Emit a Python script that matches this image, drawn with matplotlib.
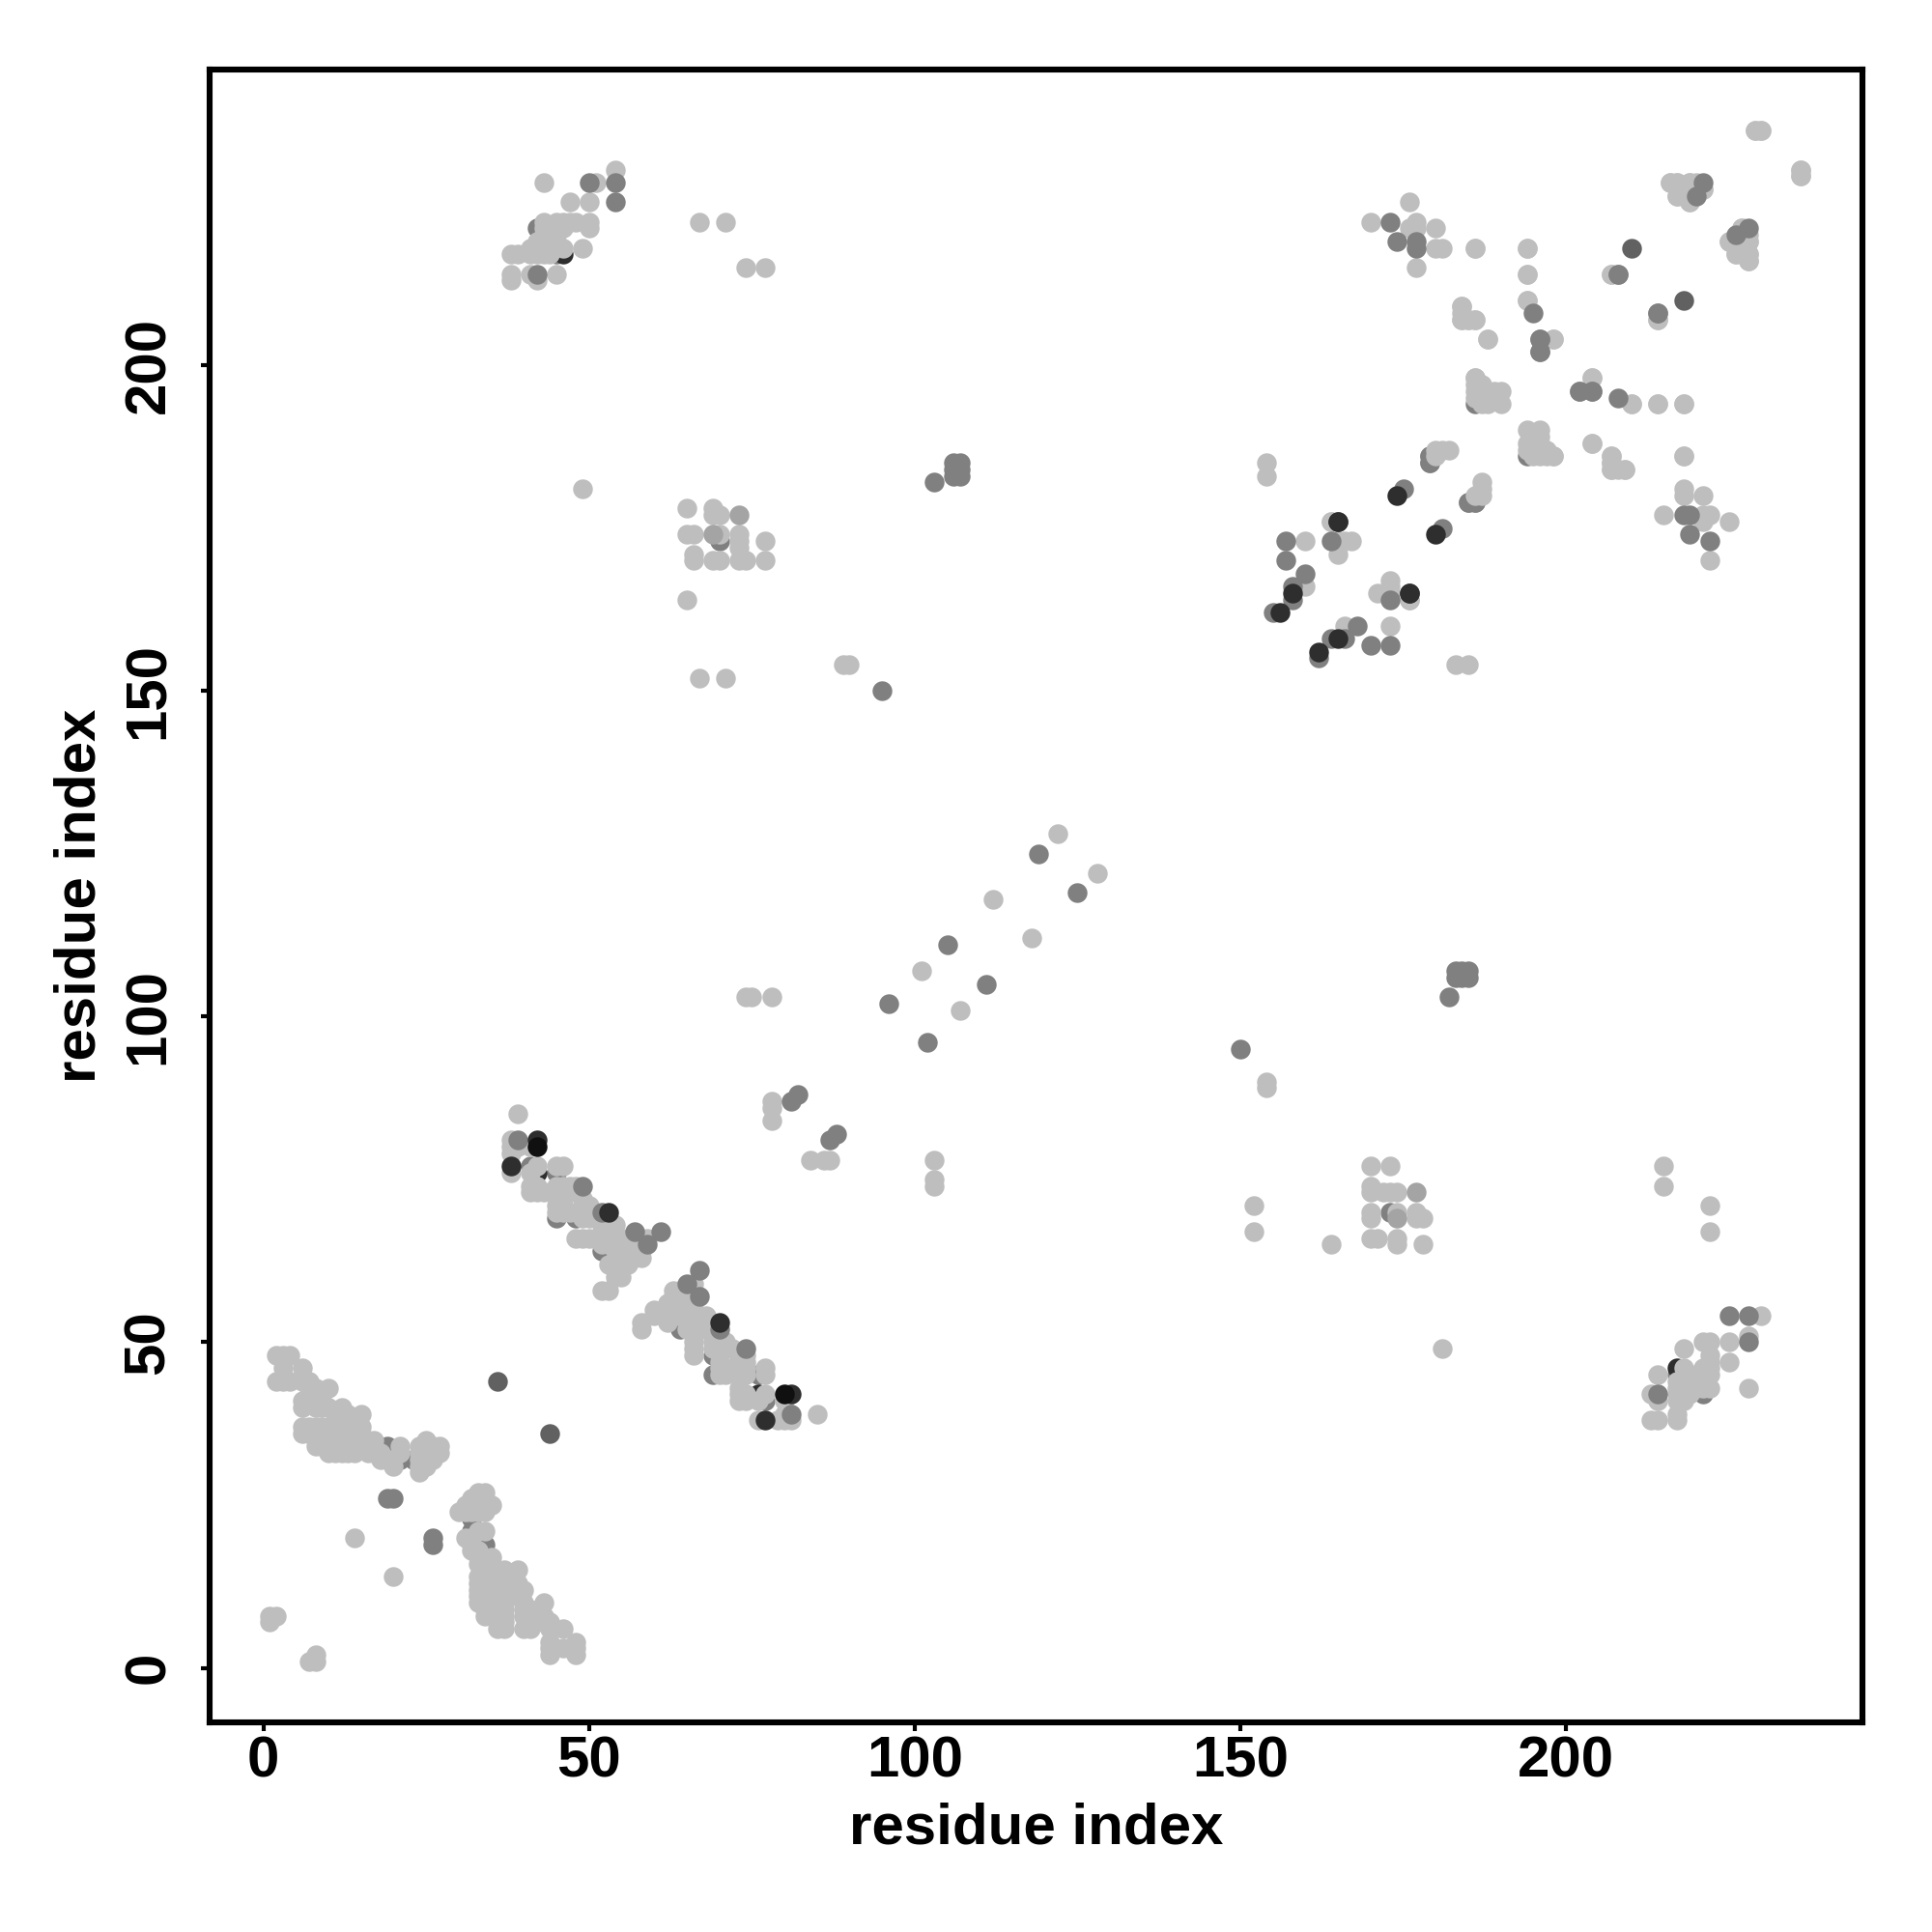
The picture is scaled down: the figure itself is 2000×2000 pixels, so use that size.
import matplotlib
matplotlib.use('Agg')
import matplotlib.pyplot as plt

# contacts between residues (a, b), the map is symmetric so only one half is listed
light_hairpin1 = [(2,44),(3,44),(4,44),(2,48),(3,48),(4,48),(3,46),(6,46),(6,44),(7,44),(7,42),(8,43),(10,43),
                  (6,41),(6,40),(7,41),(8,40),(9,40),(10,40),(8,41),(9,41),(12,40),(11,38),(12,38),(12,39),(13,39),
                  (6,37),(7,37),(8,37),(9,37),(10,37),(6,36),(7,36),(8,36),(9,36),(10,36),(11,36),(12,36),
                  (8,35),(10,35),(11,35),(12,35),(13,35),(14,35),(14,37),(13,37),(15,37),(15,39),(15,36),(15,35),
                  (8,34),(9,34),(10,34),(11,34),(12,34),(13,34),(14,34),(15,34),(16,34),(10,33),(11,33),(12,33),
                  (13,33),(14,33),(16,33),(17,33),(18,33),(17,35),(18,32),(19,32),(20,32),(20,31),(21,34),(21,33)]
light_hairpin1b = [(24,30),(24,31),(24,32),(24,33),(24,34),(25,31),(25,32),(25,33),(25,34),(25,35),(26,32),(26,33),
                   (26,34),(27,33),(27,34),(1,7),(1,8),(2,8),(14,20)]
light_hairpin2 = [(38,81),(38,80),(41,80),(38,76),(41,76),(41,73),(42,73),(43,73),(45,77),(46,77),(42,77),(45,74),
                  (47,74),(48,74),(45,73),(46,73),(49,72),(45,70),(46,70),(47,70),(49,70),(50,71),(49,69),(51,69),
                  (48,66),(49,66),(50,66),(52,68),(52,67),(52,66),(52,65),(54,68),(54,66),(54,65),(53,69),(57,65),
                  (56,66),(58,66),(56,63),(57,63),(55,62),(55,60),(53,58),(58,64),(58,63),(56,64),(54,64),(59,66),
                  (57,64),(56,62),(54,60),(52,58),(53,62),(53,65),(54,66),(53,66),(53,68),(50,69),(50,70),(49,71),
                  (45,71),(46,71),(46,74),(47,73),(41,74),(42,74),(39,85),(39,80),(38,79)]
light_hairpin3 = [(54,230),(51,228),(43,228),(47,225),(50,225),(47,222),(48,222),(50,222),(50,221),(49,218),(46,218),
                  (38,217),(39,217),(41,217),(42,217),(43,217),(44,217),(42,219),(43,219),(43,220),(44,220),(44,221),
                  (45,222),(46,221),(45,220),(38,214),(38,213),(41,214),(42,213),(45,214),(43,222),(43,221),(42,218),
                  (44,219),(45,219),(46,222),(41,218)]
light_block = [(65,178),(69,178),(70,177),(69,177),(65,174),(66,174),(70,174),(73,174),(73,173),(73,172),(77,173),
               (66,171),(66,170),(69,170),(70,170),(73,170),(74,170),(77,170),(65,164),(67,222),(71,222),(74,215),
               (77,215),(49,181),(89,154),(90,154),(67,152),(71,152),(74,103),(75,103),(78,103),(78,84),(78,86),(78,87),
               (101,107),(112,118),(122,128)]
light_sheet = [(154,183),(154,185),(160,166),(160,173),(164,176),(165,173),(166,173),(167,173),(165,171),(176,164),
               (180,186),(180,187),(181,187),(182,187),(170,222),(176,225),(177,222),(176,221),(177,221),(180,221),
               (180,218),(181,218),(177,215),(186,218),(194,218),(194,214),(194,210),(184,209),(184,207),(185,207),
               (186,207),(188,204),(198,204),(207,214),(214,207),(204,198),(210,194),(214,194),(218,194),(186,198),
               (186,195),(186,196),(186,197),(187,194),(187,195),(187,196),(187,197),(188,194),(188,195),(188,196),
               (189,195),(189,196),(190,196),(198,186),(190,194),(204,188),(207,186),(207,185),(207,184),(208,184),
               (209,184),(218,186),(216,228),(217,228),(219,228),(220,228),(217,226),(218,226),(220,227),(221,227),
               (219,225),(229,236),(230,236),(236,230),(236,229),(225,219),(227,221),(228,219),(228,217),(228,216),
               (226,217)]

# these sit underneath the light points
under_mid = [(19,34),(21,32),(23,32),(19,26),(20,26),(48,73),(48,69),(45,69),(45,76),(41,77),(52,64),(53,64),(70,173),
             (42,221),(45,217),(186,194),(179,185),(179,186),(185,179),(186,179),(58,65)]
under_dark = [(42,76),(55,65),(46,217)]

# these sit on top
top_soft = [(69,174),(73,177)]
top_mid = [(39,81),(49,74),(52,70),(57,67),(59,65),(61,67),(42,214),(54,228),(54,225),(50,228),
           (103,182),(106,183),(107,183),(106,184),(107,184),(106,185),(107,185),(81,87),(82,88),
           (96,102),(105,111),(119,125),(95,150),(155,162),(157,170),(157,173),(158,164),(158,166),(160,168),(164,173),
           (175,181),(173,222),(174,219),(177,219),(177,218),(195,208),(196,204),(196,202),(202,196),(204,196),(208,214),
           (214,208),(221,228),(220,226)]
top_dark = [(36,44),(210,218)]
top_vdark = [(38,77),(42,81),(53,70),(156,162),(158,165),(165,176),(174,180),(176,165)]
top_black = [(42,80)]

ticks = [0, 50, 100, 150, 200]

LIGHT = '#bebebe'
SOFT = '#a4a4a4'
MID = '#808080'
DARK = '#616161'
VDARK = '#2e2e2e'
BLACK = '#101010'

plt.rcParams['font.family'] = ['Liberation Sans', 'DejaVu Sans']
plt.rcParams['font.weight'] = 'bold'


def plot_contacts(ax, pairs, color):
    a = [p[0] for p in pairs]
    b = [p[1] for p in pairs]
    ax.scatter(a + b, b + a, s=54, c=color, linewidths=0, zorder=3)


fig = plt.figure(figsize=(10, 10), dpi=200)
ax = fig.add_axes([217 / 2000, 1 - 1782.6 / 2000, (1928 - 217) / 2000, (1782.6 - 71.5) / 2000])

plot_contacts(ax, under_mid, MID)
plot_contacts(ax, under_dark, VDARK)
for group in [light_hairpin1, light_hairpin1b, light_hairpin2, light_hairpin3, light_block, light_sheet]:
    plot_contacts(ax, group, LIGHT)
plot_contacts(ax, top_soft, SOFT)
plot_contacts(ax, top_mid, MID)
plot_contacts(ax, top_dark, DARK)
plot_contacts(ax, top_vdark, VDARK)
plot_contacts(ax, top_black, BLACK)

ax.set_xlim(-8.25, 245.5)
ax.set_ylim(-8.3, 245.45)
ax.set_xticks(ticks)
ax.set_yticks(ticks)
ax.tick_params(length=3.4, width=1.5, labelsize=21.6)
ax.tick_params(axis='x', pad=1.5)
ax.tick_params(axis='y', pad=9.2)
plt.setp(ax.get_yticklabels(), rotation=90, va='center')
for spine in ax.spines.values():
    spine.set_linewidth(2.2)
ax.set_xlabel('residue index', fontsize=21.6, fontweight='bold', labelpad=5)
ax.set_ylabel('residue index', fontsize=21.6, fontweight='bold', labelpad=6)

fig.savefig('out.png', dpi=200)
